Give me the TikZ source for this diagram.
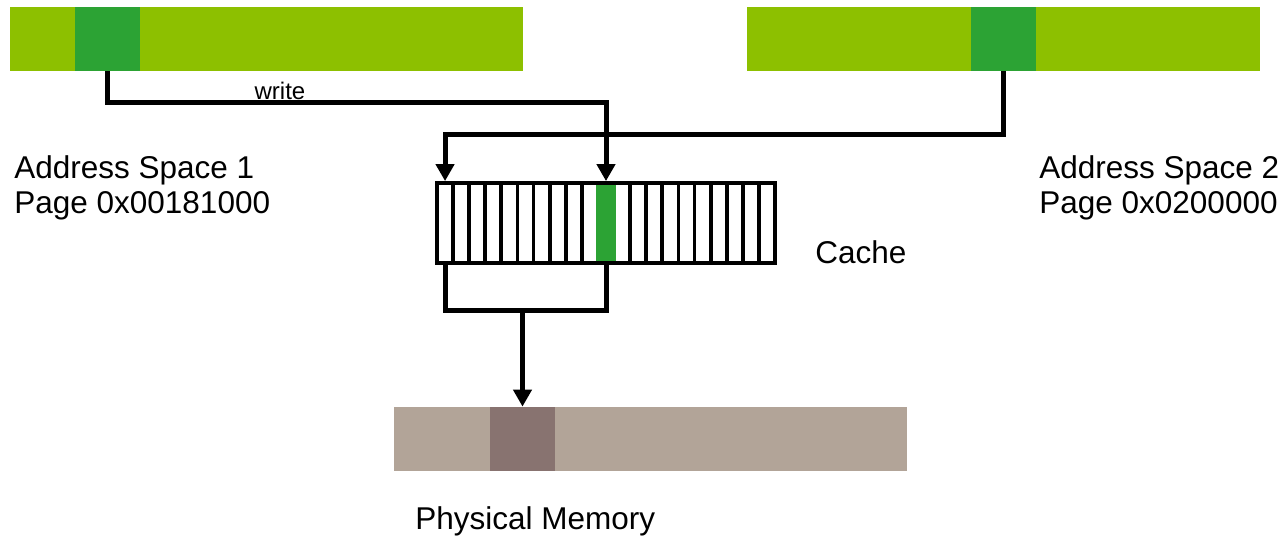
\documentclass[tikz,border=0pt]{standalone}
\usepackage{fontspec}
\setmainfont{Liberation Sans}
\usetikzlibrary{arrows.meta}
\definecolor{pagelight}{RGB}{141,192,0}
\definecolor{pagedark}{RGB}{44,163,52}
\definecolor{memlight}{RGB}{178,164,152}
\definecolor{memdark}{RGB}{136,115,112}
\tikzset{
  vmbar/.style={rectangle, fill=pagelight, anchor=north west,
                minimum width=256.5pt, minimum height=32pt, inner sep=0pt},
  vmpage/.style={rectangle, fill=pagedark, minimum width=32.5pt,
                 minimum height=32pt, inner sep=0pt},
  membar/.style={vmbar, fill=memlight},
  memframe/.style={vmpage, fill=memdark},
  cachecell/.style={rectangle, draw, line width=1.9pt, minimum width=8.05pt,
                    minimum height=40pt, inner sep=0pt},
  cachehit/.style={rectangle, fill=pagedark, minimum width=10pt,
                   minimum height=40pt, inner sep=0pt},
  cacheframe/.style={rectangle, draw, line width=2.2pt, minimum width=169pt,
                     minimum height=40pt, inner sep=0pt},
  cachelink/.style={draw, line width=2.5pt},
  bignote/.style={inner sep=0pt, align=left,
                  font=\fontsize{15.75}{17.5}\selectfont},
  smallnote/.style={inner sep=0pt, font=\fontsize{12}{14}\selectfont}
}

\begin{document}
\begin{tikzpicture}[
    x=0.5pt, y=-0.5pt,
    cacheflow/.style={cachelink, -{Triangle[width=9pt,length=8.5pt]}}
]
  \useasboundingbox (0,0) rectangle (1287,536);
  \node[vmbar] (space1) at (10,7) {};
  \node[vmpage] (page1) at (107.5,39) {};
  \node[vmbar] (space2) at (747,7) {};
  \node[vmpage] (page2) at (1003.5,39) {};
  \node[membar] (mem) at (394,407) {};
  \node[memframe] (frame) at (522.5,439) {};
  \foreach \i in {1,...,21} {
    \node[cachecell] (c\i) at ({437+(\i-0.5)*16.095},223) {};
  }
  \node[cachehit] (hit) at (c11) {};
  \node[cacheframe] (cache) at (606,223) {};
  \draw[cacheflow] (page1.south) -- ++(0,31) -| (c11.north);
  \draw[cacheflow] (page2.south) -- ++(0,63) -| (c1.north);
  \coordinate (merge) at (522.5,310);
  \draw[cachelink] (c1.south) |- (merge) -| (c11.south);
  \draw[cacheflow] (merge) -- (frame.north);
  \node[smallnote] (wnote) at (280,91) {write};
  \node[bignote, anchor=north west] (as1note) at (14,155)
    {Address Space 1\\Page 0x00181000};
  \node[bignote, anchor=north west] (as2note) at (1039,155)
    {Address Space 2\\Page 0x0200000};
  \node[bignote, anchor=base west] (cachenote) at (815,263) {Cache};
  \node[bignote, anchor=base west] (memnote) at (415,529) {Physical Memory};
\end{tikzpicture}
\end{document}
